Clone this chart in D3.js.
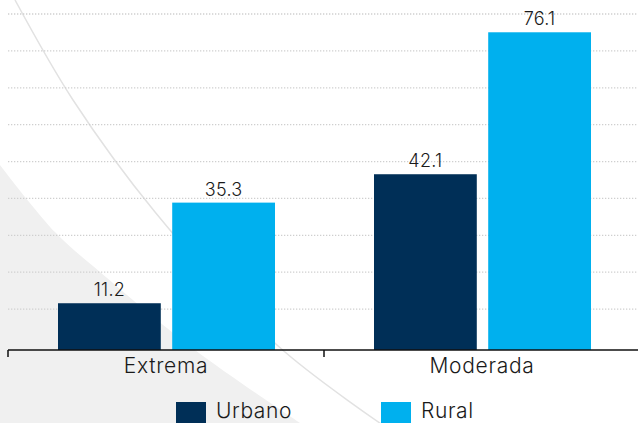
<!DOCTYPE html>
<html>
<head>
<meta charset="utf-8">
<script src="https://cdn.jsdelivr.net/npm/d3@7"></script>
<style>
  html, body { margin: 0; padding: 0; background: #fff; }
  svg { display: block; font-family: Inter, "Noto Sans", sans-serif; }
</style>
</head>
<body>
<svg id="chart" width="638" height="423"></svg>
<script>
// Poverty rates (%) by type and area
const categories = ["Extrema", "Moderada"];
const seriesNames = ["Urbano", "Rural"];
const urbano = [11.2, 42.1];
const rural = [35.3, 76.1];
const gridSteps = [1, 2, 3, 4, 5, 6, 7, 8, 9];

const colors = { Urbano: "#002f57", Rural: "#00b0ee" };

const W = 638, H = 423;
const baseY = 350;
const font = "Inter, 'Noto Sans', sans-serif";
const svg = d3.select("#chart");

// Decorative background: pale wedge and a thin sweeping arc
const bgLine = d3.line().curve(d3.curveCatmullRom);
svg.append("path")
  .attr("d", bgLine([[0, 165], [55, 232], [100, 272], [195, 350], [300, 423]]) + "L0,423Z")
  .attr("fill", "#f0f0f0");
svg.append("path")
  .attr("d", bgLine([[15, 0], [73, 100], [155, 212], [277, 345], [390, 430]]))
  .attr("fill", "none")
  .attr("stroke", "#e2e2e2")
  .attr("stroke-width", 1.5);

// Scales
const x0 = d3.scaleBand().domain(categories).range([8, 640]).padding(0);
const x1 = d3.scaleBand().domain(seriesNames).range([50, 267]).paddingInner(0.1);
const y = d3.scaleLinear().domain([0, 80]).range([baseY, 16]);
const gy = d3.scaleLinear().domain([0, 9]).range([346, 14]);

// Dotted gridlines
svg.append("g").selectAll("line").data(gridSteps).join("line")
  .attr("x1", 8).attr("x2", W)
  .attr("y1", d => gy(d)).attr("y2", d => gy(d))
  .attr("stroke", "#cfcfcf")
  .attr("stroke-width", 1.3)
  .attr("stroke-dasharray", "1.3,1.7");

// Bars
const rows = categories.map((c, i) => ({ cat: c, values: [
  { key: "Urbano", value: urbano[i] },
  { key: "Rural", value: rural[i] }
]}));

const groups = svg.append("g").selectAll("g").data(rows).join("g")
  .attr("transform", d => `translate(${x0(d.cat)},0)`);

groups.selectAll("rect").data(d => d.values).join("rect")
  .attr("x", d => x1(d.key))
  .attr("width", x1.bandwidth())
  .attr("y", d => y(d.value))
  .attr("height", d => baseY - y(d.value))
  .attr("fill", d => colors[d.key]);

groups.selectAll("text").data(d => d.values).join("text")
  .attr("x", d => x1(d.key) + x1.bandwidth() / 2)
  .attr("y", d => y(d.value) - 7)
  .attr("text-anchor", "middle")
  .attr("font-size", 18)
  .attr("font-weight", 300)
  .attr("letter-spacing", 0.3)
  .attr("fill", "#1a1a1a")
  .text(d => d.value.toFixed(1));

// Category axis
const axis = svg.append("g")
  .attr("transform", `translate(0,${baseY})`)
  .call(d3.axisBottom(x0).tickSize(0).tickPadding(8));
axis.select(".domain").remove();
axis.selectAll("text")
  .attr("font-size", 21)
  .attr("font-weight", 300)
  .attr("letter-spacing", 0.7)
  .attr("fill", "#1a1a1a")
  .attr("font-family", font);

svg.append("line")
  .attr("x1", 8).attr("x2", W)
  .attr("y1", baseY).attr("y2", baseY)
  .attr("stroke", "#111").attr("stroke-width", 1.5);
svg.append("g").selectAll("line").data(categories).join("line")
  .attr("x1", d => x0(d)).attr("x2", d => x0(d))
  .attr("y1", baseY).attr("y2", baseY + 7)
  .attr("stroke", "#111").attr("stroke-width", 1.5);

// Legend
const legendX = [176, 381];
const legend = svg.append("g").selectAll("g").data(seriesNames).join("g")
  .attr("transform", (d, i) => `translate(${legendX[i]},402)`);
legend.append("rect")
  .attr("width", 30).attr("height", 22)
  .attr("fill", d => colors[d]);
legend.append("text")
  .attr("x", 40).attr("y", 16)
  .attr("font-size", 21)
  .attr("font-weight", 300)
  .attr("letter-spacing", 0.6)
  .attr("fill", "#1a1a1a")
  .text(d => d);
</script>
</body>
</html>
